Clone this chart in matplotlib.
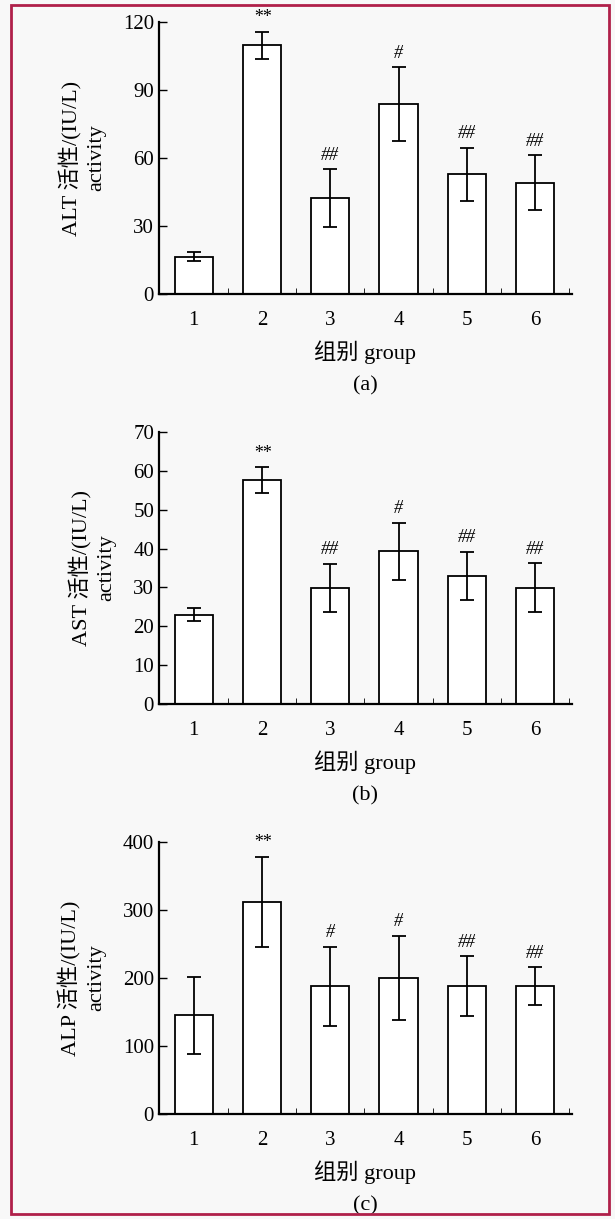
import matplotlib
matplotlib.use("Agg")
import matplotlib.pyplot as plt
from matplotlib.patches import Rectangle

plt.rcParams['font.family'] = ['Liberation Serif', 'Noto Sans CJK SC']

groups = ["1", "2", "3", "4", "5", "6"]

alt_mean = [16.5, 109.7, 42.3, 83.8, 52.8, 49.1]
alt_err = [2.0, 6.0, 12.8, 16.3, 11.6, 12.0]
alt_sig = ["", "**", "##", "#", "##", "##"]

ast_mean = [23.0, 57.6, 29.9, 39.3, 33.0, 29.9]
ast_err = [1.7, 3.3, 6.2, 7.4, 6.2, 6.3]
ast_sig = ["", "**", "##", "#", "##", "##"]

alp_mean = [145, 312, 188, 200, 188, 188]
alp_err = [57, 66, 58, 62, 44, 28]
alp_sig = ["", "**", "#", "#", "##", "##"]

panels = [
    dict(mean=alt_mean, err=alt_err, sig=alt_sig, ylim=120, ticks=[0, 30, 60, 90, 120],
         ylabel="ALT 活性/(IU/L)\nactivity", tag="(a)", rect=[0.2585, 0.7588, 0.6715, 0.2232]),
    dict(mean=ast_mean, err=ast_err, sig=ast_sig, ylim=70, ticks=[0, 10, 20, 30, 40, 50, 60, 70],
         ylabel="AST 活性/(IU/L)\nactivity", tag="(b)", rect=[0.2585, 0.4225, 0.6715, 0.2231]),
    dict(mean=alp_mean, err=alp_err, sig=alp_sig, ylim=400, ticks=[0, 100, 200, 300, 400],
         ylabel="ALP 活性/(IU/L)\nactivity", tag="(c)", rect=[0.2585, 0.0861, 0.6715, 0.2232]),
]

fig = plt.figure(figsize=(6.15, 12.19), dpi=100)
fig.patch.set_facecolor("#f8f8f8")

x = list(range(1, len(groups) + 1))
for p in panels:
    ax = fig.add_axes(p["rect"])
    ax.set_facecolor("none")
    ax.bar(x, p["mean"], width=0.56, color="white", edgecolor="black", linewidth=1.3, zorder=2)
    ax.errorbar(x, p["mean"], yerr=p["err"], fmt="none", ecolor="black", elinewidth=1.3,
                capsize=5, capthick=1.3, zorder=3)
    for xi, m, e, s in zip(x, p["mean"], p["err"], p["sig"]):
        if s:
            ax.annotate(s, (xi, m + e), xytext=(0, 4), textcoords="offset points",
                        ha="center", va="bottom", fontsize=13, style="italic")
    ax.set_xlim(0.49, 6.54)
    ax.set_ylim(0, p["ylim"])
    ax.set_yticks(p["ticks"])
    ax.set_xticks(x)
    ax.set_xticklabels(groups)
    ax.set_xticks([1.5, 2.5, 3.5, 4.5, 5.5, 6.5], minor=True)
    ax.tick_params(axis="x", which="major", length=0, pad=12, labelsize=15)
    ax.tick_params(axis="x", which="minor", direction="in", length=4)
    ax.tick_params(axis="y", direction="in", length=6, labelsize=15, width=1)
    for side in ["top", "right"]:
        ax.spines[side].set_visible(False)
    ax.spines["left"].set_linewidth(1.6)
    ax.spines["bottom"].set_linewidth(1.6)
    ax.set_ylabel(p["ylabel"], fontsize=16, labelpad=12, linespacing=1.45)
    ax.set_xlabel("组别 group\n" + p["tag"], fontsize=16, labelpad=8, linespacing=1.85)

fig.add_artist(Rectangle((0.018, 0.004), 0.973, 0.992, transform=fig.transFigure,
                         fill=False, edgecolor="#b0204a", linewidth=2))

fig.savefig("out.png", dpi=100, facecolor=fig.get_facecolor())
